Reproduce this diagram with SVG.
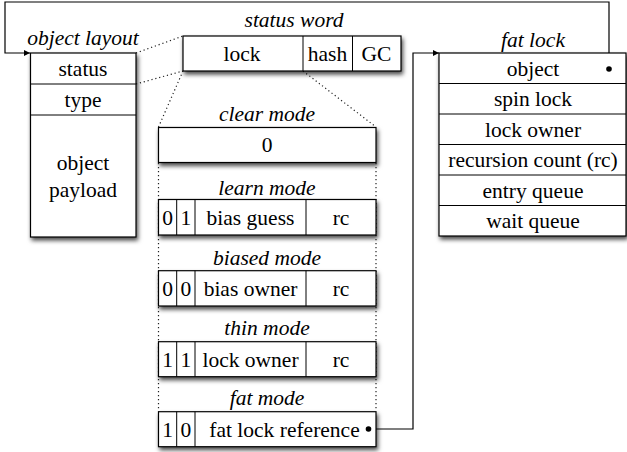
<svg xmlns="http://www.w3.org/2000/svg" width="627" height="452" viewBox="0 0 627 452">
<style>
  .box { fill: #fff; stroke: #000; stroke-width: 1.2; }
  .div { stroke: #000; stroke-width: 1; fill: none; }
  .t { font-family: "Liberation Serif", "Times New Roman", serif; font-size: 21.5px; fill: #000; text-anchor: middle; }
  .lbl { font-family: "Liberation Serif", "Times New Roman", serif; font-size: 21.5px; font-style: italic; fill: #000; text-anchor: middle; }
  .dot { stroke: #222; stroke-width: 1.2; stroke-dasharray: 1.2 2.8; fill: none; }
  .conn { stroke: #000; stroke-width: 1.2; fill: none; }
  .sh { filter: url(#shadow); }
</style>
<defs>
  <filter id="shadow" x="-10%" y="-10%" width="130%" height="140%">
    <feDropShadow dx="1.5" dy="3" stdDeviation="2" flood-color="#000" flood-opacity="0.7"/>
  </filter>
  <marker id="arrow" viewBox="0 0 10 10" refX="10" refY="5" markerWidth="9" markerHeight="6" orient="auto" markerUnits="userSpaceOnUse">
    <path d="M0,0 L10,5 L0,10 z" fill="#000"/>
  </marker>
</defs>

<g id="connectors">
  <line class="dot" x1="136" y1="53" x2="183" y2="36"/>
  <line class="dot" x1="136" y1="84" x2="183" y2="71"/>
  <line class="dot" x1="183" y1="71" x2="158.5" y2="127"/>
  <line class="dot" x1="303" y1="71" x2="376" y2="127"/>
  <line class="dot" x1="158.5" y1="163" x2="158.5" y2="411"/>
  <line class="dot" x1="376" y1="163" x2="376" y2="411"/>
  <path class="conn" d="M609,69 V2 H5 V53 H30" marker-end="url(#arrow)"/>
  <path class="conn" d="M368.5,429 H413 V53 H439" marker-end="url(#arrow)"/>
</g>

<g id="object-layout">
  <text class="lbl" x="83" y="45">object layout</text>
  <rect class="box sh" x="30.5" y="53" width="105.5" height="184"/>
  <line class="div" x1="30.5" y1="84" x2="136" y2="84"/>
  <line class="div" x1="30.5" y1="115" x2="136" y2="115"/>
  <text class="t" x="83" y="76">status</text>
  <text class="t" x="83" y="106.5">type</text>
  <text class="t" x="83" y="170">object</text>
  <text class="t" x="83" y="197">payload</text>
</g>

<g id="status-word">
  <text class="lbl" x="294" y="27">status word</text>
  <rect class="box sh" x="183" y="36" width="218" height="35"/>
  <line class="div" x1="303" y1="36" x2="303" y2="71"/>
  <line class="div" x1="352.5" y1="36" x2="352.5" y2="71"/>
  <text class="t" x="242" y="61">lock</text>
  <text class="t" x="327.5" y="61">hash</text>
  <text class="t" x="376.5" y="61">GC</text>
</g>

<g id="clear-mode">
  <text class="lbl" x="267" y="121">clear mode</text>
  <rect class="box sh" x="158.5" y="127.5" width="217.5" height="35"/>
  <text class="t" x="267" y="152">0</text>
</g>

<g id="learn-mode">
  <text class="lbl" x="267" y="195">learn mode</text>
  <rect class="box sh" x="158.5" y="199.5" width="217.5" height="35.5"/>
  <line class="div" x1="176.7" y1="199.5" x2="176.7" y2="235"/>
  <line class="div" x1="195" y1="199.5" x2="195" y2="235"/>
  <line class="div" x1="306" y1="199.5" x2="306" y2="235"/>
  <text class="t" x="167.6" y="224.5">0</text>
  <text class="t" x="185.8" y="224.5">1</text>
  <text class="t" x="250.5" y="224.5">bias guess</text>
  <text class="t" x="341" y="224.5">rc</text>
</g>

<g id="biased-mode">
  <text class="lbl" x="267" y="265">biased mode</text>
  <rect class="box sh" x="158.5" y="270.7" width="217.5" height="35.3"/>
  <line class="div" x1="176.7" y1="270.7" x2="176.7" y2="306"/>
  <line class="div" x1="195" y1="270.7" x2="195" y2="306"/>
  <line class="div" x1="306" y1="270.7" x2="306" y2="306"/>
  <text class="t" x="167.6" y="295.5">0</text>
  <text class="t" x="185.8" y="295.5">0</text>
  <text class="t" x="250.5" y="295.5">bias owner</text>
  <text class="t" x="341" y="295.5">rc</text>
</g>

<g id="thin-mode">
  <text class="lbl" x="267" y="335">thin mode</text>
  <rect class="box sh" x="158.5" y="341.7" width="217.5" height="35"/>
  <line class="div" x1="176.7" y1="341.7" x2="176.7" y2="376.7"/>
  <line class="div" x1="195" y1="341.7" x2="195" y2="376.7"/>
  <line class="div" x1="306" y1="341.7" x2="306" y2="376.7"/>
  <text class="t" x="167.6" y="366.5">1</text>
  <text class="t" x="185.8" y="366.5">1</text>
  <text class="t" x="250.5" y="366.5">lock owner</text>
  <text class="t" x="341" y="366.5">rc</text>
</g>

<g id="fat-mode">
  <text class="lbl" x="267" y="405">fat mode</text>
  <rect class="box sh" x="158.5" y="411.7" width="217.5" height="35"/>
  <line class="div" x1="176.7" y1="411.7" x2="176.7" y2="446.7"/>
  <line class="div" x1="195" y1="411.7" x2="195" y2="446.7"/>
  <text class="t" x="167.6" y="436.5">1</text>
  <text class="t" x="185.8" y="436.5">0</text>
  <text class="t" x="284.5" y="436.5">fat lock reference</text>
  <circle cx="368.5" cy="429" r="2.8" fill="#000"/>
</g>

<g id="fat-lock">
  <text class="lbl" x="533" y="47">fat lock</text>
  <rect class="box sh" x="439" y="53" width="187" height="183"/>
  <line class="div" x1="439" y1="83.5" x2="626" y2="83.5"/>
  <line class="div" x1="439" y1="114" x2="626" y2="114"/>
  <line class="div" x1="439" y1="144.5" x2="626" y2="144.5"/>
  <line class="div" x1="439" y1="175" x2="626" y2="175"/>
  <line class="div" x1="439" y1="205.5" x2="626" y2="205.5"/>
  <text class="t" x="533" y="75.5">object</text>
  <text class="t" x="533" y="106">spin lock</text>
  <text class="t" x="533" y="136.5">lock owner</text>
  <text class="t" x="533" y="167">recursion count (rc)</text>
  <text class="t" x="533" y="197.5">entry queue</text>
  <text class="t" x="533" y="228">wait queue</text>
  <circle cx="609" cy="69" r="2.8" fill="#000"/>
</g>
</svg>
